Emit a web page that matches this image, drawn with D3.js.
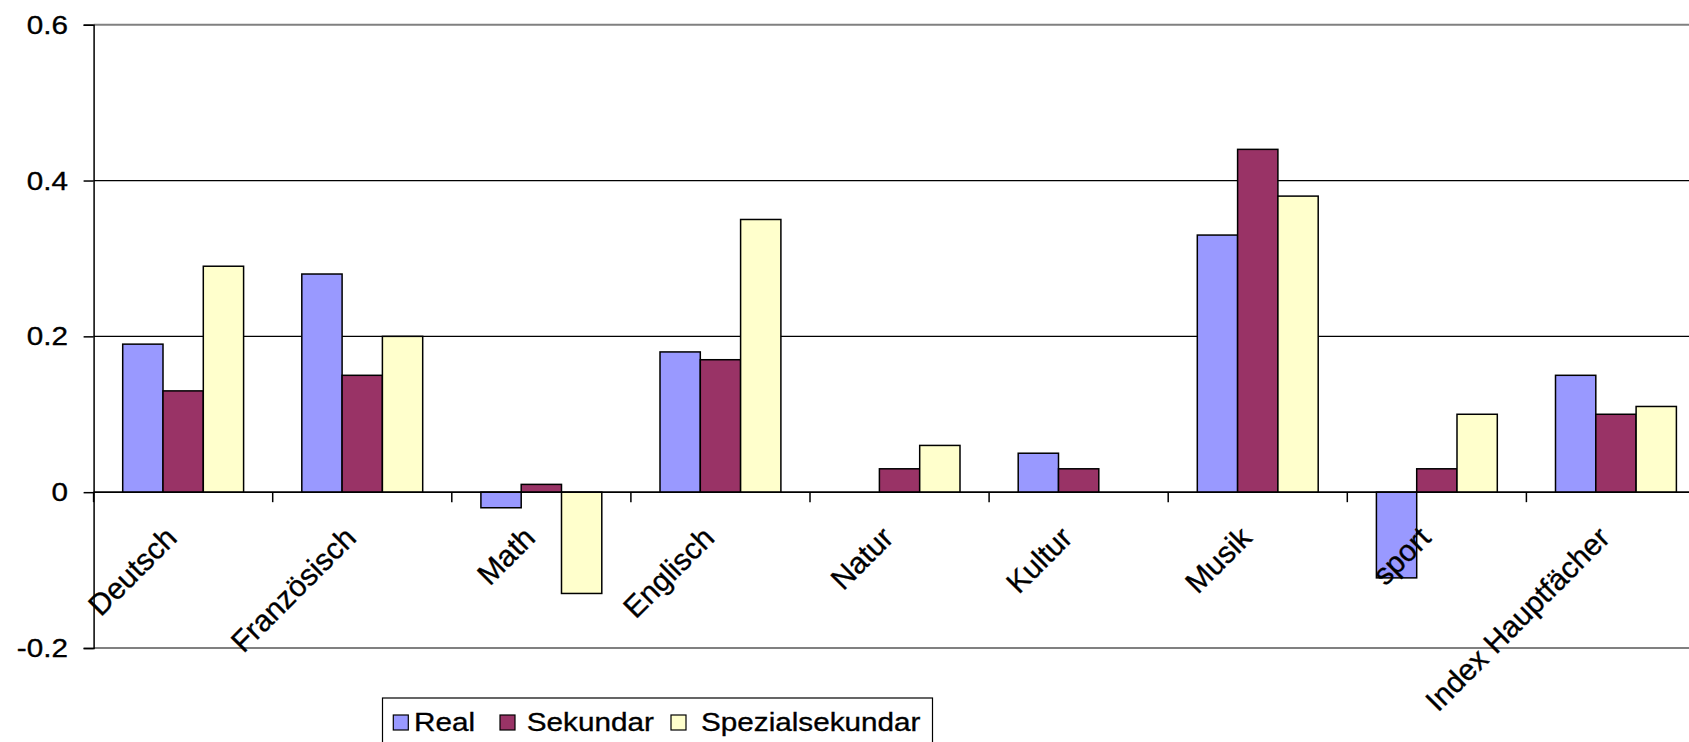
<!DOCTYPE html>
<html>
<head>
<meta charset="utf-8">
<script src="https://cdn.jsdelivr.net/npm/d3@7"></script>
<style>
  body { margin: 0; background: #fff; overflow: hidden; }
  text { font-family: "Liberation Sans", Arial, sans-serif; stroke: #000; stroke-width: 0.35px; }
</style>
</head>
<body>
<div id="chart"></div>
<script>
// data
const categories = ["Deutsch", "Französisch", "Math", "Englisch", "Natur", "Kultur", "Musik", "sport", "Index Hauptfächer"];
const seriesNames = ["Real", "Sekundar", "Spezialsekundar"];
const real = [0.19, 0.28, -0.02, 0.18, 0, 0.05, 0.33, -0.11, 0.15];
const sekundar = [0.13, 0.15, 0.01, 0.17, 0.03, 0.03, 0.44, 0.03, 0.10];
const spezial = [0.29, 0.20, -0.13, 0.35, 0.06, 0, 0.38, 0.10, 0.11];
const yTicks = [-0.2, 0, 0.2, 0.4, 0.6];
const colors = ["#9999FF", "#993366", "#FFFFCC"];

const W = 1689, H = 742;
const plotLeft = 93.6, step = 179.1;
const plotTop = 24.7, plotBottom = 648;
const fs = 26.5, sx = 1.12; // horizontal text in the original is a bit stretched sideways
const labelFs = 30;

const svg = d3.select("#chart").append("svg")
  .attr("width", W).attr("height", H);

const x0 = d3.scaleBand()
  .domain(categories)
  .range([plotLeft, plotLeft + step * categories.length])
  .paddingInner(0.325)
  .paddingOuter(0.1625);

const x1 = d3.scaleBand()
  .domain(seriesNames)
  .range([0, x0.bandwidth()]);

const y = d3.scaleLinear().domain([-0.2, 0.6]).range([plotBottom, plotTop]);

const rows = categories.map((c, i) => ({
  cat: c,
  vals: [real[i], sekundar[i], spezial[i]].map((v, j) => ({ s: seriesNames[j], v, j }))
}));

// gridlines (top and bottom are the grey plot border)
svg.append("g").selectAll("line")
  .data(yTicks)
  .join("line")
  .attr("x1", plotLeft).attr("x2", W)
  .attr("y1", d => y(d)).attr("y2", d => y(d))
  .attr("stroke", d => (d === 0.6 || d === -0.2) ? "#808080" : "#000")
  .attr("stroke-width", d => (d === 0.6 || d === -0.2) ? 2 : 1.3);

// bars
svg.append("g").selectAll("g")
  .data(rows)
  .join("g")
  .attr("transform", d => `translate(${x0(d.cat)},0)`)
  .selectAll("rect")
  .data(d => d.vals.filter(e => e.v !== 0))
  .join("rect")
  .attr("x", d => x1(d.s))
  .attr("width", x1.bandwidth())
  .attr("y", d => y(Math.max(0, d.v)))
  .attr("height", d => Math.abs(y(d.v) - y(0)))
  .attr("fill", d => colors[d.j])
  .attr("stroke", "#000")
  .attr("stroke-width", 1.5);

// x axis at zero with ticks between categories
const xa = svg.append("g");
xa.append("line")
  .attr("x1", plotLeft).attr("x2", W)
  .attr("y1", y(0)).attr("y2", y(0))
  .attr("stroke", "#000").attr("stroke-width", 1.5);
xa.selectAll("line.tk")
  .data(d3.range(categories.length + 1))
  .join("line")
  .attr("class", "tk")
  .attr("x1", i => plotLeft + i * step).attr("x2", i => plotLeft + i * step)
  .attr("y1", y(0)).attr("y2", y(0) + 10)
  .attr("stroke", "#000").attr("stroke-width", 1.5);

xa.selectAll("text")
  .data(categories)
  .join("text")
  .attr("transform", d => {
    const cx = x0(d) + x0.bandwidth() / 2 - 4.5;
    return `translate(${cx},${y(0) + 47.5}) rotate(-45)`;
  })
  .attr("text-anchor", "end")
  .attr("font-size", labelFs)
  .attr("fill", "#000")
  .text(d => d);

// y axis
const yAxis = svg.append("g")
  .attr("transform", `translate(${plotLeft},0)`)
  .call(d3.axisLeft(y).tickValues(yTicks).tickSize(10).tickPadding(16).tickFormat(d => String(d)));
yAxis.select(".domain").attr("stroke", "#000").attr("stroke-width", 1.5);
yAxis.selectAll(".tick line").attr("stroke", "#000").attr("stroke-width", 1.5);
yAxis.selectAll(".tick text")
  .attr("x", 0)
  .attr("transform", `translate(-25.6,0) scale(${sx},1)`)
  .attr("font-size", fs)
  .attr("font-family", "Liberation Sans, Arial, sans-serif")
  .attr("fill", "#000");

// legend
const lg = svg.append("g");
lg.append("rect")
  .attr("x", 382.5).attr("y", 698)
  .attr("width", 550).attr("height", 70)
  .attr("fill", "#fff").attr("stroke", "#000").attr("stroke-width", 1.2);
const sqX = [393.3, 500, 671];
const txX = [414, 526.8, 701];
const items = lg.selectAll("g")
  .data(seriesNames)
  .join("g");
items.append("rect")
  .attr("x", (d, i) => sqX[i]).attr("y", 715)
  .attr("width", 15).attr("height", 15)
  .attr("fill", (d, i) => colors[i])
  .attr("stroke", "#000").attr("stroke-width", 1.2);
items.append("text")
  .attr("transform", (d, i) => `translate(${txX[i]},731) scale(${sx},1)`)
  .attr("font-size", fs)
  .attr("fill", "#000")
  .text(d => d);
</script>
</body>
</html>
